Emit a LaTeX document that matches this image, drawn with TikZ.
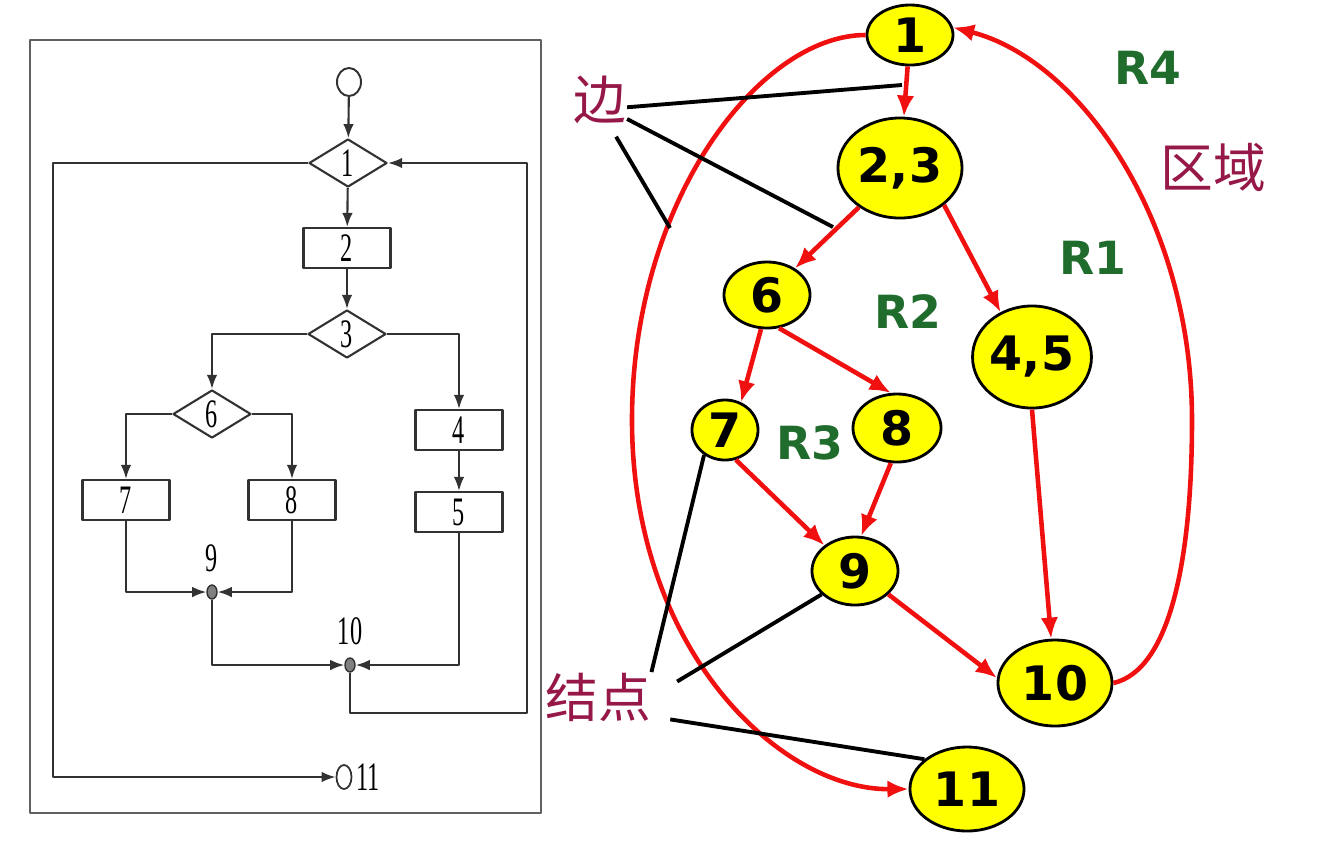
\documentclass[tikz,border=0pt]{standalone}
\usepackage{fontspec}
\usepackage{graphicx}
\setmainfont{Liberation Serif}
\newfontfamily\cjk{Noto Sans CJK SC}
\newfontfamily\gras{DejaVu Sans}
\usetikzlibrary{shapes.geometric,arrows.meta}
\definecolor{rouge}{RGB}{240,16,16}
\definecolor{jaune}{RGB}{255,255,0}
\definecolor{vert}{RGB}{32,108,44}
\definecolor{pourpre}{RGB}{150,24,72}
\definecolor{trait}{RGB}{50,50,50}
\newcommand{\etiq}[1]{{\fontsize{11.5}{12}\selectfont\scalebox{0.6}[1]{#1}}}

\tikzset{
    fleche/.style={draw=trait, line width=0.6pt, -{Latex[length=4pt,width=3pt]}},
    boite/.style={draw=trait, line width=0.6pt, minimum width=0.87cm, minimum height=0.4cm, inner sep=0pt},
    losange/.style={diamond, draw=trait, line width=0.6pt, minimum width=0.78cm, minimum height=0.48cm, inner sep=0pt},
    point/.style={ellipse, draw=trait, fill=gray, line width=0.4pt, minimum width=0.1cm, minimum height=0.14cm, inner sep=0pt},
    sommet/.style={ellipse, draw=black, line width=0.8pt, fill=jaune, inner sep=0pt, font=\gras\bfseries\fontsize{13.5}{14}\selectfont},
    arete/.style={draw=rouge, line width=1.3pt, -{Latex[length=6pt,width=5pt]}},
    renvoi/.style={draw=black, line width=1.1pt},
    region/.style={text=vert, font=\gras\bfseries\fontsize{13}{14}\selectfont},
    mot/.style={text=pourpre, inner sep=0pt, font=\cjk\fontsize{15}{16}\selectfont},
}

\begin{document}
\begin{tikzpicture}[x=0.01cm, y=-0.01cm, line join=round]
    \useasboundingbox (0,0) rectangle (1317,841);
    \draw[gray!75!black, line width=0.8pt] (30,40) rectangle (541,813);

    \node[ellipse, draw=trait, line width=0.55pt, minimum width=0.24cm, minimum height=0.28cm, inner sep=0pt] (debut) at (349,82) {};
    \node[losange, label={center:\etiq{1}}] (d1) at (348,163) {};
    \node[boite] (b2) at (347,248) {\etiq{2}};
    \node[losange, label={center:\etiq{3}}] (d3) at (347,334) {};
    \node[losange, label={center:\etiq{6}}] (d6) at (212,414) {};
    \node[boite] (b4) at (459,430) {\etiq{4}};
    \node[boite] (b7) at (126,500) {\etiq{7}};
    \node[boite] (b8) at (292,500) {\etiq{8}};
    \node[boite] (b5) at (459,512) {\etiq{5}};
    \node[point, label={above:\etiq{9}}] (p9) at (212,592) {};
    \node[point, label={above:\etiq{10}}] (p10) at (350,665) {};
    \node[ellipse, draw=trait, line width=0.5pt, minimum width=0.15cm, minimum height=0.24cm, inner sep=0pt,
        label={[inner sep=1pt]right:\etiq{11}}] (fin) at (344,777) {};
    \coordinate (retour) at (527,713);
    \coordinate (gauche) at (53,777);

    \draw[fleche] (debut) -- (d1);
    \draw[fleche] (d1) -- (b2);
    \draw[fleche] (b2) -- (d3);
    \draw[fleche] (d3.west) -| (d6.north);
    \draw[fleche] (d3.east) -| (b4.north);
    \draw[fleche] (d6.west) -| (b7.north);
    \draw[fleche] (d6.east) -| (b8.north);
    \draw[fleche] (b4) -- (b5);
    \draw[fleche] (b7.south) |- (p9.west);
    \draw[fleche] (b8.south) |- (p9.east);
    \draw[fleche] (p9.south) |- (p10.west);
    \draw[fleche] (b5.south) |- (p10.east);
    \draw[fleche] (p10.south) |- (retour) |- (d1.east);
    \draw[fleche] (d1.west) -| (gauche) -- (fin.west);

    \foreach \nom/\x/\y/\w/\h/\txt in {n1/910/35/0.86/0.6/1, n23/900/168/1.24/1.0/{2,3},
        n6/767/295/0.86/0.66/6, n7/725/430/0.66/0.6/7, n8/897/428/0.88/0.68/8,
        n9/855/571/0.86/0.68/9, n45/1032/357/1.02/1.02/{4,5},
        n10/1055/683/1.14/0.86/10, n11/967/789/1.14/0.84/11}
        \node[sommet, minimum width=\w cm, minimum height=\h cm] (\nom) at (\x,\y) {\txt};

    \draw[arete] (n1) -- (n23);
    \draw[arete] (n23) -- (n6);
    \draw[arete] (n23.-40) -- (n45.125);
    \draw[arete] (n6.-100) -- (n7.60);
    \draw[arete] (n6.-70) -- (n8.100);
    \draw[arete] (n7.-70) -- (n9.140);
    \draw[arete] (n8.-100) -- (n9.80);
    \draw[arete] (n45.-90) -- (n10.95);
    \draw[arete] (n9.-35) -- (n10.175);
    \draw[arete] (n10.east) .. controls (1170,670) and (1192,560) .. (1192,420)
        .. controls (1192,220) and (1080,60) .. (n1.10);
    \draw[arete] (n1.west) .. controls (760,35) and (632,200) .. (632,420)
        .. controls (632,650) and (780,790) .. (n11.west);

    \foreach \nom/\x/\y in {R4/1148/68, R1/1093/258, R2/908/312, R3/810/443}
        \node[region] (\nom) at (\x,\y) {\nom};

    \node[mot] (bian) at (600,100) {边};
    \node[mot] (jiedian) at (598,697) {结点};
    \node[mot] (quyu) at (1213,167) {区域};
    \coordinate (c12) at (902,85);
    \coordinate (c236) at (833,227);
    \coordinate (c111) at (670,228);
    \draw[renvoi] (bian.-15) -- (c12);
    \draw[renvoi] (bian.-35) -- (c236);
    \draw[renvoi, shorten <=0.14cm] (bian.-70) -- (c111);
    \draw[renvoi] (jiedian.north east) -- (n7.-130);
    \draw[renvoi, shorten <=0.3cm] (jiedian.east) -- (n9.-145);
    \draw[renvoi, shorten <=0.19cm] (jiedian.-20) -- (n11.145);
\end{tikzpicture}
\end{document}
